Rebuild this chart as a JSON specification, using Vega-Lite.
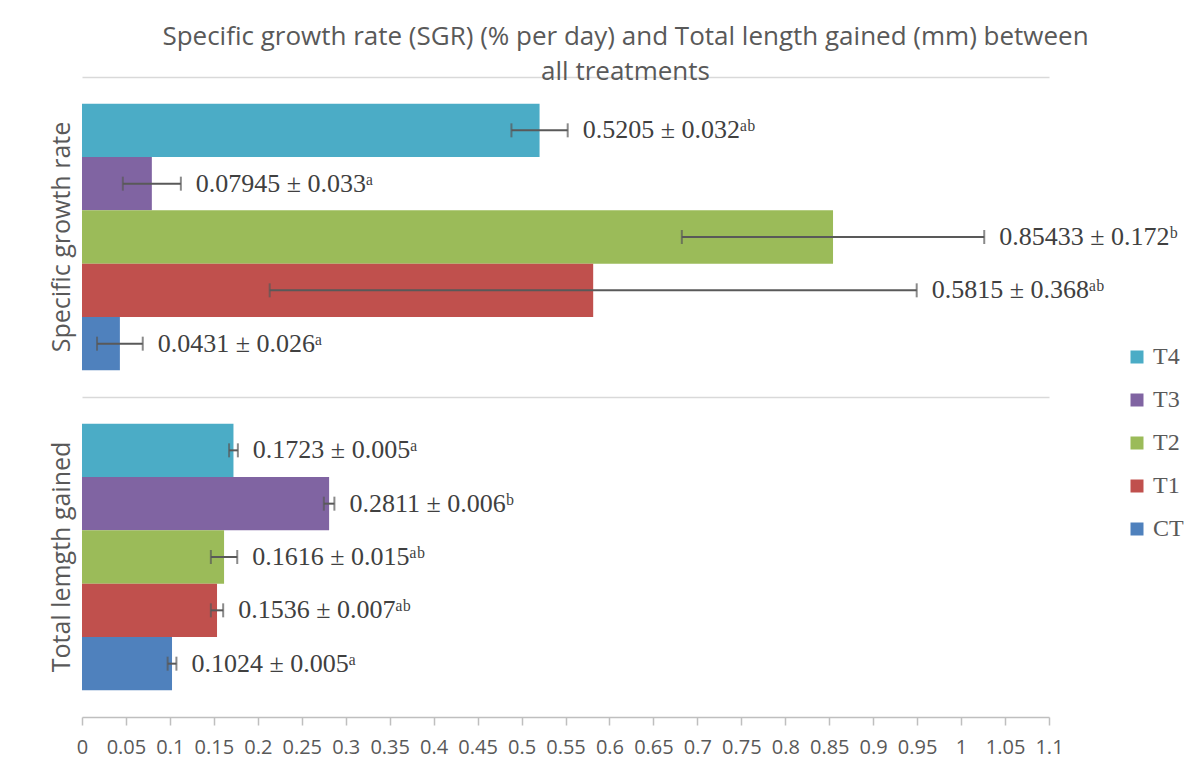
{
  "$schema": "https://vega.github.io/schema/vega-lite/v6.json",
  "autosize": "none",
  "width": 967,
  "height": 640,
  "padding": {"left": 82, "top": 77, "right": 138, "bottom": 57},
  "background": "white",
  "title": {
    "text": ["Specific growth rate (SGR) (% per day) and Total length gained (mm) between", "all treatments"],
    "font": "Open Sans",
    "fontSize": 26,
    "fontWeight": "normal",
    "color": "#595959",
    "anchor": "middle",
    "frame": "group",
    "dx": 60,
    "offset": -8,
    "lineHeight": 35
  },
  "data": {
    "values": [
      {"measure": "Specific growth rate", "group": "T4", "value": 0.5205, "low": 0.4885, "high": 0.5525, "label": "0.5205 ± 0.032ᵃᵇ"},
      {"measure": "Specific growth rate", "group": "T3", "value": 0.07945, "low": 0.04645, "high": 0.11245, "label": "0.07945 ± 0.033ᵃ"},
      {"measure": "Specific growth rate", "group": "T2", "value": 0.85433, "low": 0.68233, "high": 1.02633, "label": "0.85433 ± 0.172ᵇ"},
      {"measure": "Specific growth rate", "group": "T1", "value": 0.5815, "low": 0.2135, "high": 0.9495, "label": "0.5815 ± 0.368ᵃᵇ"},
      {"measure": "Specific growth rate", "group": "CT", "value": 0.0431, "low": 0.0171, "high": 0.0691, "label": "0.0431 ± 0.026ᵃ"},
      {"measure": "Total lemgth gained", "group": "T4", "value": 0.1723, "low": 0.1673, "high": 0.1773, "label": "0.1723 ± 0.005ᵃ"},
      {"measure": "Total lemgth gained", "group": "T3", "value": 0.2811, "low": 0.2751, "high": 0.2871, "label": "0.2811 ± 0.006ᵇ"},
      {"measure": "Total lemgth gained", "group": "T2", "value": 0.1616, "low": 0.1466, "high": 0.1766, "label": "0.1616 ± 0.015ᵃᵇ"},
      {"measure": "Total lemgth gained", "group": "T1", "value": 0.1536, "low": 0.1466, "high": 0.1606, "label": "0.1536 ± 0.007ᵃᵇ"},
      {"measure": "Total lemgth gained", "group": "CT", "value": 0.1024, "low": 0.0974, "high": 0.1074, "label": "0.1024 ± 0.005ᵃ"}
    ]
  },
  "encoding": {
    "y": {
      "field": "measure",
      "type": "nominal",
      "sort": ["Specific growth rate", "Total lemgth gained"],
      "scale": {"paddingInner": 0, "paddingOuter": 0},
      "title": null,
      "axis": {
        "bandPosition": 0,
        "grid": true,
        "gridColor": "#d9d9d9",
        "gridWidth": 1.5,
        "domain": false,
        "ticks": false,
        "labelAngle": -90,
        "labelAlign": "center",
        "labelBaseline": "bottom",
        "labelPadding": 8,
        "labelFont": "Open Sans",
        "labelFontSize": 25,
        "labelColor": "#595959",
        "labelLimit": 400
      }
    },
    "yOffset": {
      "field": "group",
      "type": "nominal",
      "sort": ["T4", "T3", "T2", "T1", "CT"],
      "scale": {"paddingInner": 0, "paddingOuter": 0.5}
    }
  },
  "layer": [
    {
      "mark": {"type": "bar"},
      "encoding": {
        "x": {
          "field": "value",
          "type": "quantitative",
          "scale": {"domain": [0, 1.1], "nice": false, "zero": true},
          "title": null,
          "axis": {
            "values": [0, 0.05, 0.1, 0.15, 0.2, 0.25, 0.3, 0.35, 0.4, 0.45, 0.5, 0.55, 0.6, 0.65, 0.7, 0.75, 0.8, 0.85, 0.9, 0.95, 1, 1.05, 1.1],
            "format": "~g",
            "grid": false,
            "domainColor": "#bfbfbf",
            "domainWidth": 1.5,
            "tickColor": "#bfbfbf",
            "tickWidth": 1.5,
            "tickSize": 8,
            "labelFont": "Open Sans",
            "labelFontSize": 20,
            "labelColor": "#595959",
            "labelPadding": 12,
            "labelFlush": false,
            "labelOverlap": false
          }
        },
        "color": {
          "field": "group",
          "type": "nominal",
          "scale": {"domain": ["T4", "T3", "T2", "T1", "CT"], "range": ["#4BACC6", "#8064A2", "#9BBB59", "#C0504D", "#4F81BD"]},
          "legend": {
            "title": null,
            "orient": "none",
            "legendX": 1043,
            "legendY": 268,
            "padding": 0,
            "symbolType": "square",
            "symbolSize": 169,
            "symbolStrokeWidth": 0,
            "symbolOpacity": 1,
            "labelFont": "Liberation Serif",
            "labelFontSize": 24,
            "labelColor": "#595959",
            "labelOffset": 4,
            "rowPadding": 19
          }
        }
      }
    },
    {
      "mark": {"type": "rule", "color": "#595959", "strokeWidth": 2},
      "encoding": {
        "x": {"field": "low", "type": "quantitative"},
        "x2": {"field": "high"}
      }
    },
    {
      "mark": {"type": "tick", "color": "#595959", "thickness": 2, "size": 14, "orient": "vertical"},
      "encoding": {"x": {"field": "low", "type": "quantitative"}}
    },
    {
      "mark": {"type": "tick", "color": "#595959", "thickness": 2, "size": 14, "orient": "vertical"},
      "encoding": {"x": {"field": "high", "type": "quantitative"}}
    },
    {
      "mark": {"type": "text", "align": "left", "baseline": "middle", "dx": 15, "font": "Liberation Serif", "fontSize": 26, "color": "#404040"},
      "encoding": {
        "x": {"field": "high", "type": "quantitative"},
        "text": {"field": "label", "type": "nominal"}
      }
    }
  ],
  "config": {"view": {"stroke": null}}
}
